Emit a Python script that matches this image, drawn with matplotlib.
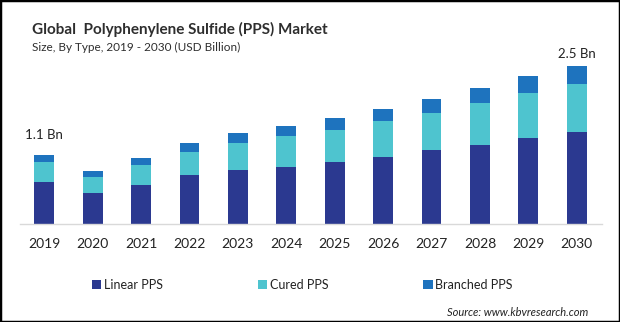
import matplotlib.pyplot as plt
from matplotlib.patches import Rectangle

plt.rcParams["font.family"] = ["Lato", "DejaVu Sans"]

years = ["2019", "2020", "2021", "2022", "2023", "2024",
         "2025", "2026", "2027", "2028", "2029", "2030"]
linear_pps = [0.66, 0.50, 0.62, 0.77, 0.85, 0.91, 0.99, 1.07, 1.17, 1.26, 1.36, 1.46]
cured_pps = [0.33, 0.24, 0.31, 0.38, 0.43, 0.48, 0.51, 0.56, 0.59, 0.66, 0.72, 0.76]
branched_pps = [0.11, 0.10, 0.11, 0.14, 0.16, 0.17, 0.19, 0.19, 0.22, 0.24, 0.27, 0.28]

# total labels shown above the first and last bar
value_labels = {"2019": "1.1 Bn", "2030": "2.5 Bn"}

colors = ["#2B3990", "#4EC4CF", "#1E73BE"]
names = ["Linear PPS", "Cured PPS", "Branched PPS"]

W, H = 620, 322
fig = plt.figure(figsize=(W / 100, H / 100), dpi=100)
ax = fig.add_axes([20 / W, (H - 224) / H, 582 / W, 184 / H])

x = range(len(years))
width = 0.41
b1 = ax.bar(x, linear_pps, width, color=colors[0], label=names[0])
bottom2 = linear_pps
b2 = ax.bar(x, cured_pps, width, bottom=bottom2, color=colors[1], label=names[1])
bottom3 = [a + b for a, b in zip(linear_pps, cured_pps)]
b3 = ax.bar(x, branched_pps, width, bottom=bottom3, color=colors[2], label=names[2])

totals = [a + b for a, b in zip(bottom3, branched_pps)]
offsets = {"2019": 14, "2030": 9}
for i, yr in enumerate(years):
    if yr in value_labels:
        ax.annotate(value_labels[yr], (i, totals[i]), xytext=(0, offsets[yr]),
                    textcoords="offset points", ha="center", va="center",
                    fontsize=9.5, color="#222222")

ax.set_xlim(-0.5, 11.52)
ax.set_ylim(0, 184 / 63)
ax.set_xticks(list(x))
ax.set_xticklabels(years, fontsize=10, color="#222222")
ax.tick_params(axis="x", length=0, pad=10)
ax.set_yticks([])
for side in ["top", "right", "left"]:
    ax.spines[side].set_visible(False)
ax.spines["bottom"].set_color("#D9D9D9")
ax.spines["bottom"].set_linewidth(1)

fig.text(32 / W, 1 - 29 / H, "Global  Polyphenylene Sulfide (PPS) Market",
         fontsize=11, fontweight="bold", color="#2E2E2E", va="center")
fig.text(32 / W, 1 - 47 / H, "Size, By Type, 2019 - 2030 (USD Billion)",
         fontsize=8.5, color="#2E2E2E", va="center")

fig.legend(handles=[b1, b2, b3], loc="center left",
           bbox_to_anchor=(92 / W, 1 - 285 / H), ncol=3, frameon=False,
           fontsize=9, handlelength=0.75, handleheight=0.75,
           handletextpad=0.2, columnspacing=7.6, borderpad=0,
           borderaxespad=0, labelcolor="#222222")

fig.text(588 / W, 1 - 312 / H, "Source: www.kbvresearch.com",
         fontsize=8, style="italic", color="#222222", ha="right", va="center")

fig.patches.append(Rectangle((0, 0), 1, 1, transform=fig.transFigure,
                             fill=False, edgecolor="black", linewidth=2.5))

fig.savefig("out.png", dpi=100)
